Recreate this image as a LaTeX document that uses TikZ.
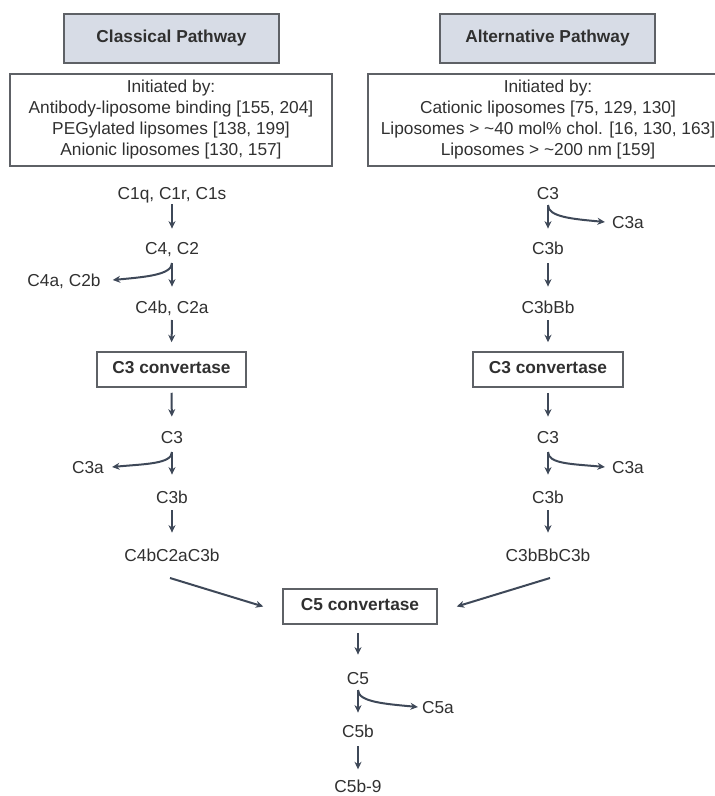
\documentclass[tikz,border=0pt]{standalone}
\usepackage{fontspec}
\setmainfont{Liberation Sans}
\usetikzlibrary{arrows.meta}
\definecolor{txt}{HTML}{303030}
\definecolor{arr}{HTML}{3E4858}
\definecolor{hdr}{HTML}{D7DCE6}
\definecolor{bord}{HTML}{5E6166}
\begin{document}
\begin{tikzpicture}[x=1pt,y=-1pt,
  every node/.style={font=\fontsize{17.3}{21}\selectfont, text=txt},
  lbl/.style={inner sep=0pt, text height=12.4pt, text depth=3.6pt},
  hdrbox/.style={draw=bord, line width=1.5pt, fill=hdr, minimum width=215pt, minimum height=49pt, inner sep=0pt, font=\fontsize{17.3}{21}\selectfont\bfseries},
  initbox/.style={draw=bord, line width=1.5pt, minimum height=92pt, inner sep=0pt, align=center},
  convbox/.style={draw=bord, line width=1.5pt, fill=white, minimum height=35pt, inner sep=0pt, text height=12.4pt, text depth=3.6pt, font=\fontsize{17.3}{21}\selectfont\bfseries},
  flow/.style={draw=arr, line width=2pt, -{Stealth[length=7.5pt,width=7pt]}},
]
\useasboundingbox (0,0) rectangle (715,796);

% headers
\node[hdrbox] (hl) at (171.5,38.5) {Classical Pathway};
\node[hdrbox] (hr) at (547.5,38.5) {Alternative Pathway};

% initiated boxes
\node[initbox, minimum width=322pt] (il) at (171,120) {Initiated by:\\Antibody-liposome binding [155, 204]\\PEGylated lipsomes [138, 199]\\Anionic liposomes [130, 157]};
\node[initbox, minimum width=360pt] (ir) at (548,120) {Initiated by:\\Cationic liposomes [75, 129, 130]\\Liposomes > \textasciitilde40 mol\% chol. [16, 130, 163]\\Liposomes > \textasciitilde200 nm [159]};

% classical column
\node[lbl] (l1) at (172,194.8) {C1q, C1r, C1s};
\node[lbl] (l2) at (172,249.8) {C4, C2};
\node[lbl] (l2b) at (64,281.8) {C4a, C2b};
\node[lbl] (l3) at (172,308.8) {C4b, C2a};
\node[convbox, minimum width=149pt] (lbox) at (171.5,369.5) {C3 convertase};
\node[lbl] (l4) at (172,438.8) {C3};
\node[lbl] (l4b) at (88,468.8) {C3a};
\node[lbl] (l5) at (172,498.8) {C3b};
\node[lbl] (l6) at (172,556.8) {C4bC2aC3b};

% alternative column
\node[lbl] (r1) at (548,194.8) {C3};
\node[lbl] (r1b) at (628,223.8) {C3a};
\node[lbl] (r2) at (548,249.8) {C3b};
\node[lbl] (r3) at (548,308.8) {C3bBb};
\node[convbox, minimum width=150pt] (rbox) at (548,369.5) {C3 convertase};
\node[lbl] (r4) at (548,438.8) {C3};
\node[lbl] (r4b) at (628,468.8) {C3a};
\node[lbl] (r5) at (548,498.8) {C3b};
\node[lbl] (r6) at (548,556.8) {C3bBbC3b};

% common
\node[convbox, minimum width=154pt] (c5) at (360,606.5) {C5 convertase};
\node[lbl] (m1) at (358,679.8) {C5};
\node[lbl] (m1b) at (438,708.8) {C5a};
\node[lbl] (m2) at (358,732.8) {C5b};
\node[lbl] (m3) at (358,788.5) {C5b-9};

% classical arrows
\draw[flow, shorten <=1pt, shorten >=13pt] (l1.south) -- (l2.north);
\coordinate (jl2) at ([yshift=-5pt]l2.south);
\draw[flow, shorten >=14pt] (jl2) -- (l3.north);
\draw[flow] (jl2) .. controls +(0,12) and +(32,-3) .. ([xshift=12pt,yshift=1.8pt]l2b.east);
\draw[flow, shorten <=3pt, shorten >=9pt] (l3.south) -- (lbox.north);
\draw[flow, shorten <=5pt, shorten >=14pt] (lbox.south) -- (l4.north);
\coordinate (jl4) at ([yshift=-5pt]l4.south);
\draw[flow, shorten >=16pt] (jl4) -- (l5.north);
\draw[flow] (jl4) .. controls +(0,12) and +(32,-3) .. ([xshift=8pt,yshift=1.8pt]l4b.east);
\draw[flow, shorten <=3pt, shorten >=16pt] (l5.south) -- (l6.north);

% alternative arrows
\coordinate (jr1) at ([yshift=-2pt]r1.south);
\draw[flow, shorten >=13pt] (jr1) -- (r2.north);
\draw[flow] (jr1) .. controls +(0,12) and +(-32,-3) .. ([xshift=-7pt,yshift=1.8pt]r1b.west);
\draw[flow, shorten <=5pt, shorten >=14pt] (r2.south) -- (r3.north);
\draw[flow, shorten <=3pt, shorten >=9pt] (r3.south) -- (rbox.north);
\draw[flow, shorten <=5pt, shorten >=14pt] (rbox.south) -- (r4.north);
\coordinate (jr4) at ([yshift=-5pt]r4.south);
\draw[flow, shorten >=16pt] (jr4) -- (r5.north);
\draw[flow] (jr4) .. controls +(0,12) and +(-32,-3) .. ([xshift=-7pt,yshift=1.8pt]r4b.west);
\draw[flow, shorten <=3pt, shorten >=16pt] (r5.south) -- (r6.north);

% converging arrows
\draw[flow] ([xshift=-2pt,yshift=-13pt]l6.south) -- ([xshift=-19pt]c5.west);
\draw[flow] ([xshift=2pt,yshift=-13pt]r6.south) -- ([xshift=19pt]c5.east);

% common arrows
\draw[flow, shorten <=8pt, shorten >=17pt] (c5.south -| m1.north) -- (m1.north);
\coordinate (jm1) at ([yshift=-2pt]m1.south);
\draw[flow, shorten >=12pt] (jm1) -- (m2.north);
\draw[flow] (jm1) .. controls +(0,12) and +(-32,-3) .. ([xshift=-4pt,yshift=1.8pt]m1b.west);
\draw[flow, shorten <=5pt, shorten >=11pt] (m2.south) -- (m3.north);
\end{tikzpicture}
\end{document}
